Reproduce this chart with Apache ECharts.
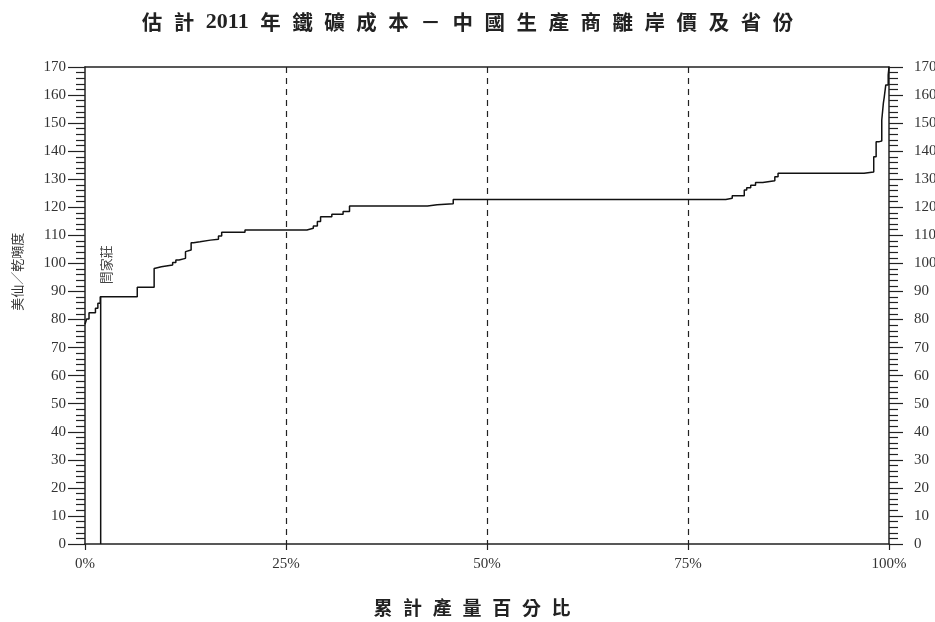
<!DOCTYPE html>
<html><head><meta charset="utf-8">
<script src="https://cdn.jsdelivr.net/npm/echarts@6/dist/echarts.min.js"></script>
<style>html,body{margin:0;padding:0;background:#fff}#c{width:935px;height:622px}</style>
</head><body><div id="c"></div>
<script>
// Cumulative production share (%) where each cost step begins
const cumPct = [0, 0.2, 0.5, 1.3, 1.6, 1.9, 6.5, 8.6, 8.8, 9.5, 10.9, 11.3, 11.7, 12.5, 12.7, 13.2, 13.5, 14.3, 15.6, 16.6, 17.0, 19.9,
  27.6, 28.4, 28.9, 29.3, 30.7, 32.1, 32.9, 42.6, 43.8, 45.8,
  79.7, 80.5, 82.0, 82.3, 82.8, 83.4, 84.3, 85.8, 86.2, 96.9, 98.1, 98.4, 98.8, 99.1, 99.3, 99.4, 99.6, 99.9, 100];
// Cost (US cents / dmtu) for each step
const cost = [78.3, 80.2, 82.4, 84.0, 85.8, 88.1, 91.5, 98.2, 98.8, 99.4, 100.3, 101.2, 101.8, 104.2, 104.8, 107.4, 107.7, 108.3, 108.6, 109.8, 111.1, 111.9,
  112.5, 113.3, 114.9, 116.6, 117.5, 118.5, 120.5, 120.9, 121.3, 122.8,
  123.2, 124.1, 126.2, 127.0, 127.9, 128.8, 129.5, 130.9, 132.1, 132.6, 138.0, 143.4, 143.6, 151.1, 157.1, 159.1, 163.6, 167.1, 170];
// Highlighted producer
const markerName = '閆家莊';
const markerPct = 1.95;
const markerCost = 88.1;
const markerLabelPos = [2.6, 99.5];

const titleTokens = ['估','計','2011','年','鐵','礦','成','本','－','中','國','生','產','商','離','岸','價','及','省','份'];
const xNameTokens = ['累','計','產','量','百','分','比'];
const yName = '美仙／乾噸度';
const yNamePos = [-8.5, 97];

const SERIF = '"Liberation Serif","Times New Roman",serif';
const CJK = '"Noto Sans CJK TC","Noto Sans CJK SC",sans-serif';
const gap = '\u2002\u200A';

const chart = echarts.init(document.getElementById('c'), null, {renderer: 'canvas'});

const yAxisCommon = {
  type: 'value', min: 0, max: 170, interval: 10,
  axisLine: {show: true, onZero: false, lineStyle: {color: '#222', width: 1.5}},
  axisTick: {show: true, inside: false, length: 17, lineStyle: {color: '#222', width: 1.2}},
  minorTick: {show: true, splitNumber: 5, length: 9, lineStyle: {color: '#222', width: 1.2}},
  splitLine: {show: false},
  axisLabel: {color: '#333', fontFamily: SERIF, fontSize: 15}
};

const titleRich = titleTokens.map(t => /\d/.test(t) ? '{n|' + t + '}' : t).join(gap);

chart.setOption({
  animation: false,
  backgroundColor: '#fff',
  title: {
    text: titleRich,
    left: 'center', top: 6, padding: [5, 0, 5, 10],
    textStyle: {fontFamily: CJK, fontWeight: 'bold', fontSize: 20.5, color: '#222',
      rich: {n: {fontFamily: SERIF, fontWeight: 'bold', fontSize: 22, color: '#222'}}}
  },
  grid: {left: 85, right: 46, top: 67, bottom: 78, containLabel: false, outerBoundsMode: 'none'},
  xAxis: [{
    type: 'value', min: 0, max: 100, interval: 25,
    name: xNameTokens.join(gap), nameLocation: 'middle', nameGap: 54, nameMoveOverlap: false,
    nameTextStyle: {fontFamily: CJK, fontWeight: 'bold', fontSize: 19, color: '#222', padding: [0, 30, 0, 0]},
    axisLine: {show: true, onZero: false, lineStyle: {color: '#222', width: 1.5}},
    axisTick: {show: true, length: 6, lineStyle: {color: '#222', width: 1.2}},
    axisLabel: {color: '#333', fontFamily: SERIF, fontSize: 15, margin: 13, formatter: v => v + '%'},
    splitLine: {show: true, showMinLine: false, showMaxLine: false, lineStyle: {color: '#222', type: [6, 5], width: 1.2}}
  }, {
    type: 'value', min: 0, max: 100, position: 'top',
    axisLine: {show: true, onZero: false, lineStyle: {color: '#222', width: 1.5}},
    axisTick: {show: false}, axisLabel: {show: false}, splitLine: {show: false}
  }],
  yAxis: [
    Object.assign({}, yAxisCommon, {
      position: 'left',
      axisLabel: Object.assign({}, yAxisCommon.axisLabel, {margin: 19})
    }),
    Object.assign({}, yAxisCommon, {
      position: 'right',
      axisTick: Object.assign({}, yAxisCommon.axisTick, {length: 14}),
      axisLabel: Object.assign({}, yAxisCommon.axisLabel, {margin: 25})
    })
  ],
  series: [{
    type: 'line', step: 'end', symbol: 'none', xAxisIndex: 0, yAxisIndex: 0,
    lineStyle: {color: '#111', width: 1.5},
    data: cumPct.map((x, i) => [x, cost[i]])
  }, {
    type: 'line', symbol: 'none', xAxisIndex: 0, yAxisIndex: 0,
    lineStyle: {color: '#111', width: 1.5},
    data: [[markerPct, 0], [markerPct, markerCost]]
  }]
});

const p = chart.convertToPixel({xAxisIndex: 0, yAxisIndex: 0}, markerLabelPos);
const q = chart.convertToPixel({xAxisIndex: 0, yAxisIndex: 0}, yNamePos);
chart.setOption({
  graphic: [{
    type: 'text', x: p[0], y: p[1], rotation: Math.PI / 2,
    style: {text: markerName, fill: '#444', font: '13px ' + CJK, textAlign: 'center', textVerticalAlign: 'middle'}
  }, {
    type: 'text', x: q[0], y: q[1], rotation: Math.PI / 2,
    style: {text: yName, fill: '#333', font: '13px ' + CJK, textAlign: 'center', textVerticalAlign: 'middle'}
  }]
});
</script>
</body></html>
